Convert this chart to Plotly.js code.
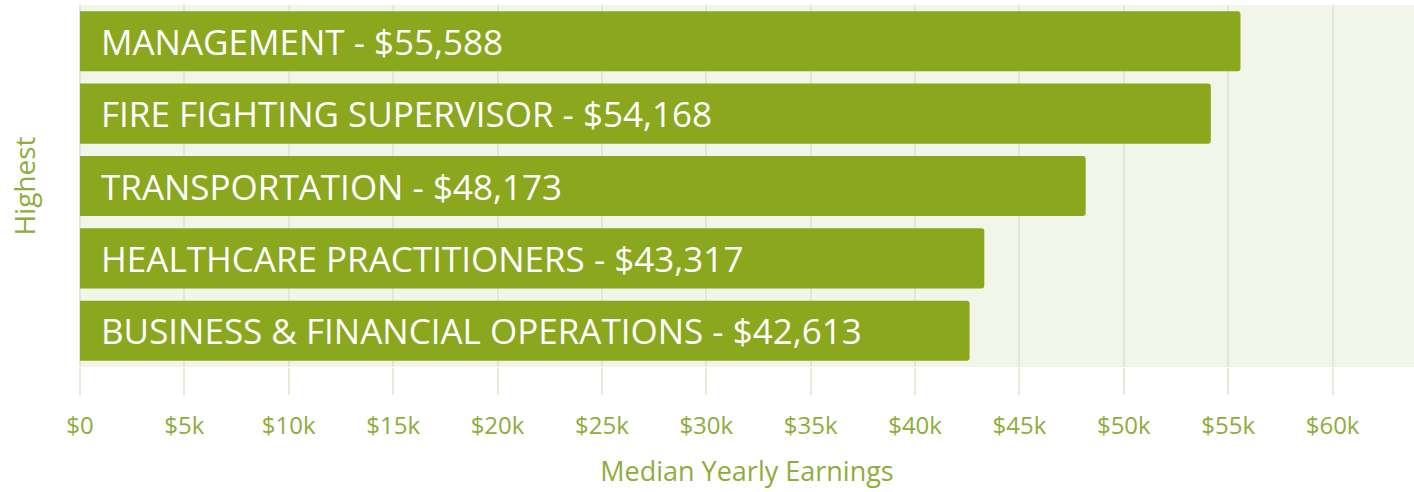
<!DOCTYPE html>
<html>
<head>
<meta charset="utf-8">
<script src="https://cdn.plot.ly/plotly-3.0.1.min.js"></script>
<style>
html,body{margin:0;padding:0;background:#fff;}
#chart{width:1414px;height:492px;}
</style>
</head>
<body>
<div id="chart"></div>
<script>
var categories = ["MANAGEMENT", "FIRE FIGHTING SUPERVISOR", "TRANSPORTATION", "HEALTHCARE PRACTITIONERS", "BUSINESS & FINANCIAL OPERATIONS"];
var earnings = [55588, 54168, 48173, 43317, 42613];
var tickValues = [0, 5000, 10000, 15000, 20000, 25000, 30000, 35000, 40000, 45000, 50000, 55000, 60000];
var tickLabels = ["$0", "$5k", "$10k", "$15k", "$20k", "$25k", "$30k", "$35k", "$40k", "$45k", "$50k", "$55k", "$60k"];

var green = "#8aa71e";
var labelGreen = "#8fac3c";

var labels = categories.map(function(c, i){
  return c + " - $" + earnings[i].toLocaleString("en-US");
});

var trace = {
  type: "bar",
  orientation: "h",
  x: earnings,
  y: categories,
  marker: {color: green, cornerradius: 3},
  hoverinfo: "none"
};

var annotations = categories.map(function(c, i){
  return {
    x: 0, y: c, xref: "x", yref: "y",
    text: labels[i], showarrow: false,
    xanchor: "left", yanchor: "middle", xshift: 19,
    font: {family: "Open Sans, sans-serif", size: 35, color: "#ffffff"}
  };
});

var layout = {
  width: 1414, height: 492,
  margin: {l: 80, r: 0, t: 5, b: 125},
  paper_bgcolor: "#ffffff",
  plot_bgcolor: "#f1f5ea",
  bargap: 0.17,
  showlegend: false,
  xaxis: {
    range: [0, 63900],
    tickvals: tickValues,
    ticktext: tickLabels,
    showgrid: true,
    gridcolor: "#e2e8d2",
    gridwidth: 2,
    zeroline: true,
    zerolinecolor: "#e2e8d2",
    zerolinewidth: 2,
    ticks: "outside",
    ticklen: 27,
    tickwidth: 2,
    tickcolor: "#e6ebd8",
    ticklabelstandoff: 10,
    tickfont: {family: "Open Sans, sans-serif", size: 24, color: labelGreen},
    showline: false,
    fixedrange: true,
    title: {text: "Median Yearly Earnings", standoff: 22,
            font: {family: "Open Sans, sans-serif", size: 27, color: labelGreen}}
  },
  yaxis: {
    autorange: "reversed",
    showticklabels: false,
    showgrid: false,
    zeroline: false,
    ticks: "",
    fixedrange: true,
    title: {text: "Highest", standoff: 35,
            font: {family: "Open Sans, sans-serif", size: 28, color: labelGreen}}
  },
  annotations: annotations
};

Plotly.newPlot("chart", [trace], layout, {displayModeBar: false, staticPlot: true});
</script>
</body>
</html>
